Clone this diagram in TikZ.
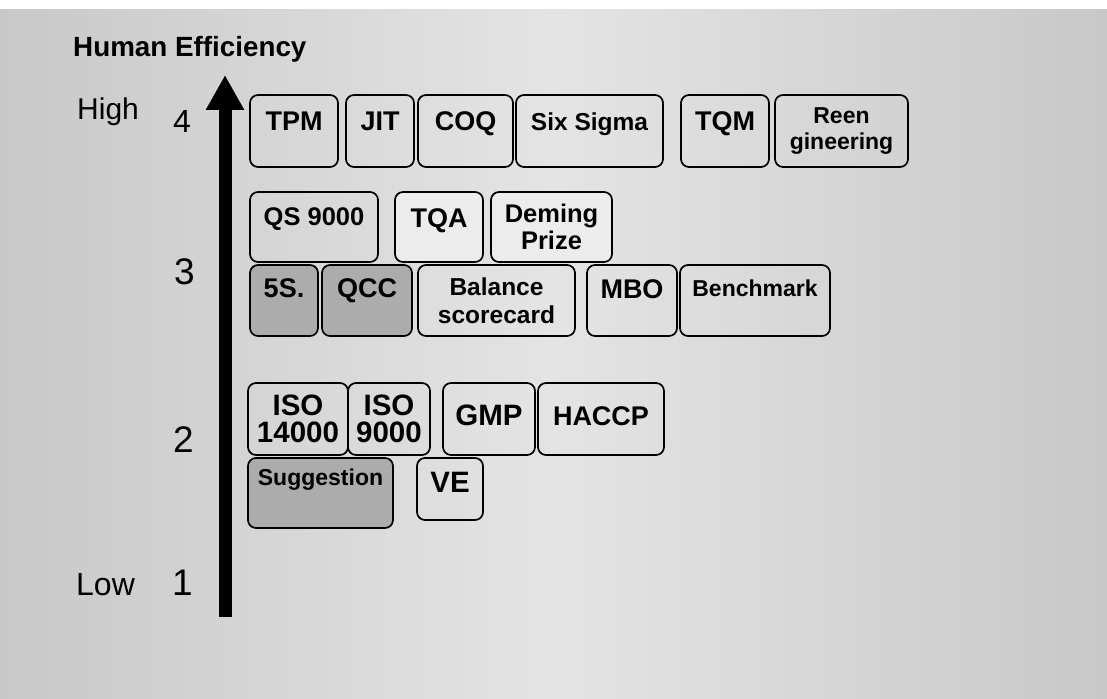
\documentclass[tikz,border=0pt]{standalone}
\usepackage{fontspec}
\setmainfont{Liberation Sans}
\usepackage{tikz}
\usetikzlibrary{arrows.meta,positioning}
\definecolor{scan}{RGB}{200,200,200}
\definecolor{scanlight}{RGB}{228,228,228}
\definecolor{boxdark}{RGB}{172,172,172}
\definecolor{boxpale}{RGB}{236,236,236}

\begin{document}
\begin{tikzpicture}[
	x=1pt, y=-1pt,
	box/.style={rectangle, rounded corners=8pt, draw, line width=1.7pt, inner sep=0pt, outer sep=0pt, align=center, font=\bfseries\fontsize{27}{28}\selectfont},
	small/.style={font=\bfseries\fontsize{23}{26}\selectfont},
	medium/.style={font=\bfseries\fontsize{25.5}{27}\selectfont},
	large/.style={font=\bfseries\fontsize{29.5}{27}\selectfont},
	lift/.style 2 args={text height=#1, text depth=#2},
	dark/.style={fill=boxdark},
	pale/.style={fill=boxpale},
	lvl/.style={inner sep=0pt, anchor=base west, font=\fontsize{37}{40}\selectfont},
	axis/.style={line width=13pt, -{Triangle[width=36pt,length=35pt]}}
]
\useasboundingbox (0,0) rectangle (1107,698);
\shade[left color=scan, right color=scan, middle color=scanlight] (0,10) rectangle (1107,698);

\node[inner sep=0pt, anchor=base west, font=\bfseries\fontsize{27.8}{29}\selectfont] (title) at (73,57) {Human Efficiency};
\node[lvl, font=\fontsize{30}{32}\selectfont] (high) at (77,120) {High};
\node[lvl, font=\fontsize{32}{34}\selectfont] (four) at (173,132) {4};
\node[lvl] (three) at (174,284) {3};
\node[lvl] (two) at (173,452) {2};
\node[lvl, font=\fontsize{32}{34}\selectfont] (low) at (76,595) {Low};
\node[lvl] (one) at (172,595) {1};

\coordinate (axisbot) at (225,617);
\coordinate (axistop) at (225,75);
\draw[axis] (axisbot) -- (axistop);

\node[box, lift={35pt}{37pt}, minimum width=88pt, anchor=north west] (tpm) at (250,95) {TPM};
\node[box, lift={35pt}{37pt}, minimum width=68pt, right=8pt of tpm] (jit) {JIT};
\node[box, lift={35pt}{37pt}, minimum width=95pt, right=4pt of jit] (coq) {COQ};
\node[box, lift={35pt}{37pt}, minimum width=147pt, right=3pt of coq, font=\bfseries\fontsize{24.5}{26}\selectfont] (sixsigma) {Six Sigma};
\node[box, lift={35pt}{37pt}, minimum width=88pt, right=18pt of sixsigma] (tqm) {TQM};
\node[box, small, minimum width=133pt, minimum height=72pt, right=6pt of tqm] (reeng) {Reen\\gineering};

\node[box, medium, lift={33pt}{37pt}, minimum width=128pt, anchor=north west] (qs) at (250,192) {QS 9000};
\node[box, pale, lift={35pt}{35pt}, minimum width=88pt, right=17pt of qs] (tqa) {TQA};
\node[box, pale, medium, minimum width=121pt, minimum height=70pt, right=8pt of tqa] (deming) {Deming\\Prize};

\node[box, dark, lift={32pt}{39pt}, minimum width=68pt, anchor=north west] (fives) at (250,265) {5S.};
\node[box, dark, lift={32pt}{39pt}, minimum width=90pt, right=4pt of fives] (qcc) {QCC};
\node[box, minimum width=157pt, minimum height=71pt, right=6pt of qcc, font=\bfseries\fontsize{24.5}{28}\selectfont] (balance) {Balance\\scorecard};
\node[box, lift={33pt}{38pt}, minimum width=90pt, right=12pt of balance] (mbo) {MBO};
\node[box, small, lift={31pt}{40pt}, minimum width=150pt, right=3pt of mbo] (bench) {Benchmark};

\node[box, large, minimum width=100pt, minimum height=72pt, anchor=north west] (isoa) at (248,383) {ISO\\14000};
\node[box, large, minimum width=82pt, minimum height=72pt, right=0pt of isoa] (isob) {ISO\\9000};
\node[box, large, lift={42pt}{30pt}, minimum width=92pt, right=13pt of isob] (gmp) {GMP};
\node[box, lift={42pt}{30pt}, minimum width=126pt, right=3pt of gmp] (haccp) {HACCP};

\node[box, dark, small, lift={27pt}{43pt}, minimum width=145pt, anchor=north west] (sugg) at (248,458) {Suggestion};
\node[box, large, lift={34pt}{28pt}, minimum width=66pt, right=24pt of sugg, yshift=4pt] (ve) {VE};
\end{tikzpicture}
\end{document}
